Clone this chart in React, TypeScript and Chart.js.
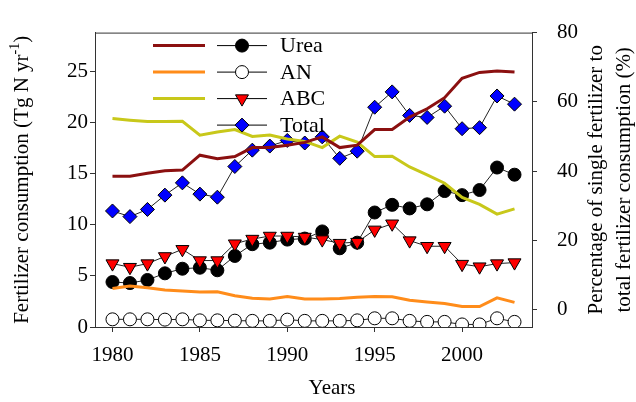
import { useEffect, useRef } from 'react';
import { Chart, registerables } from 'chart.js';

Chart.register(...registerables);

const years = [1980, 1981, 1982, 1983, 1984, 1985, 1986, 1987, 1988, 1989, 1990, 1991, 1992, 1993, 1994, 1995, 1996, 1997, 1998, 1999, 2000, 2001, 2002, 2003];

// Fertilizer consumption (Tg N yr-1), left axis
const urea = [4.4, 4.3, 4.6, 5.25, 5.7, 5.8, 5.55, 6.95, 8.1, 8.25, 8.55, 8.65, 9.35, 7.7, 8.25, 11.2, 11.95, 11.6, 12.0, 13.3, 12.9, 13.4, 15.6, 14.9];
const an = [0.75, 0.75, 0.75, 0.72, 0.75, 0.65, 0.65, 0.62, 0.6, 0.6, 0.72, 0.6, 0.6, 0.6, 0.65, 0.85, 0.85, 0.6, 0.5, 0.5, 0.25, 0.25, 0.85, 0.5];
const abc = [6.2, 5.85, 6.2, 6.9, 7.6, 6.5, 6.5, 8.15, 8.6, 8.9, 8.9, 8.8, 8.55, 8.2, 8.3, 9.5, 10.1, 8.45, 7.9, 7.9, 6.15, 5.9, 6.2, 6.3];
const total = [11.35, 10.8, 11.5, 12.9, 14.1, 13.0, 12.7, 15.7, 17.3, 17.7, 18.25, 18.0, 18.6, 16.5, 17.2, 21.5, 23.0, 20.7, 20.5, 21.6, 19.4, 19.5, 22.6, 21.8];

// Percentage of single fertilizer to total (%), right axis
const ureaPct = [38.5, 38.5, 39.4, 40.1, 40.3, 44.6, 43.6, 44.2, 46.8, 46.8, 47.5, 48.3, 49.9, 46.8, 47.5, 52.0, 52.0, 55.6, 58.0, 61.2, 66.8, 68.5, 68.9, 68.6];
const anPct = [6.1, 6.8, 6.3, 5.7, 5.4, 5.1, 5.2, 4.05, 3.3, 3.1, 3.8, 3.1, 3.1, 3.2, 3.6, 3.8, 3.7, 2.7, 2.2, 1.8, 0.9, 0.9, 3.4, 2.1];
const abcPct = [55.2, 54.7, 54.3, 54.3, 54.4, 50.4, 51.3, 52.0, 50.0, 50.4, 49.3, 48.6, 46.8, 50.1, 48.4, 44.2, 44.3, 41.2, 38.9, 36.5, 32.4, 30.4, 27.6, 29.1];

const xTicks = [1980, 1985, 1990, 1995, 2000];
const leftTicks = [0, 5, 10, 15, 20, 25];
const rightTicks = [0, 20, 40, 60, 80];

const seriesLabels = ['Urea', 'AN', 'ABC', 'Total'];

const FONT = "'Liberation Serif', 'Times New Roman', serif";
const C_UREA = '#8b1010';
const C_AN = '#ff8c1a';
const C_ABC = '#c8c81a';
const AXIS = '#333333';

function drawMarker(ctx: CanvasRenderingContext2D, type: string, x: number, y: number) {
  ctx.save();
  ctx.lineWidth = 1;
  ctx.strokeStyle = '#000';
  ctx.beginPath();
  if (type === 'urea' || type === 'an') {
    ctx.arc(x, y, 6.5, 0, Math.PI * 2);
    ctx.fillStyle = type === 'urea' ? '#000' : '#fff';
  } else if (type === 'abc') {
    const r = 7.5;
    ctx.moveTo(x, y + r);
    ctx.lineTo(x + r * Math.sin((2 * Math.PI) / 3), y - r / 2);
    ctx.lineTo(x - r * Math.sin((2 * Math.PI) / 3), y - r / 2);
    ctx.closePath();
    ctx.fillStyle = '#ff0000';
  } else {
    const r = 7;
    ctx.moveTo(x, y - r);
    ctx.lineTo(x + r, y);
    ctx.lineTo(x, y + r);
    ctx.lineTo(x - r, y);
    ctx.closePath();
    ctx.fillStyle = '#0000ff';
  }
  ctx.fill();
  ctx.stroke();
  ctx.restore();
}

const decorPlugin = {
  id: 'decor',
  afterDraw(chart: any) {
    const { ctx, chartArea } = chart;
    const { left, right, top, bottom } = chartArea;
    ctx.save();
    // top frame line
    ctx.strokeStyle = AXIS;
    ctx.lineWidth = 1;
    ctx.beginPath();
    ctx.moveTo(left, top + 0.5);
    ctx.lineTo(right, top + 0.5);
    ctx.stroke();

    // legend
    const rowY = [13, 39.5, 66, 92.5];
    const lineColors = [C_UREA, C_AN, C_ABC, null];
    const markers = ['urea', 'an', 'abc', 'total'];
    for (let i = 0; i < 4; i++) {
      const y = top + rowY[i];
      const lc = lineColors[i];
      if (lc) {
        ctx.strokeStyle = lc;
        ctx.lineWidth = 3;
        ctx.beginPath();
        ctx.moveTo(left + 58, y);
        ctx.lineTo(left + 110, y);
        ctx.stroke();
      }
      ctx.strokeStyle = '#000';
      ctx.lineWidth = 1;
      ctx.beginPath();
      ctx.moveTo(left + 122, y);
      ctx.lineTo(left + 172, y);
      ctx.stroke();
      drawMarker(ctx, markers[i], left + 147, y);
      ctx.fillStyle = '#000';
      ctx.font = `22px ${FONT}`;
      ctx.textAlign = 'left';
      ctx.textBaseline = 'middle';
      ctx.fillText(seriesLabels[i], left + 185, y + 1);
    }

    const cy = (top + bottom) / 2;
    // left axis title with superscript
    ctx.save();
    ctx.translate(22, cy);
    ctx.rotate(-Math.PI / 2);
    ctx.fillStyle = '#000';
    ctx.textBaseline = 'middle';
    ctx.textAlign = 'left';
    const main = 'Fertilizer consumption (Tg N yr';
    const sup = '-1';
    const end = ')';
    ctx.font = `21px ${FONT}`;
    const w1 = ctx.measureText(main).width;
    const w3 = ctx.measureText(end).width;
    ctx.font = `14px ${FONT}`;
    const w2 = ctx.measureText(sup).width;
    let x0 = -(w1 + w2 + w3) / 2;
    ctx.font = `21px ${FONT}`;
    ctx.fillText(main, x0, 0);
    ctx.font = `14px ${FONT}`;
    ctx.fillText(sup, x0 + w1, -7);
    ctx.font = `21px ${FONT}`;
    ctx.fillText(end, x0 + w1 + w2, 0);
    ctx.restore();

    // right axis title (two lines, reading upward)
    ctx.save();
    ctx.font = `21px ${FONT}`;
    ctx.fillStyle = '#000';
    ctx.textAlign = 'center';
    ctx.textBaseline = 'middle';
    ctx.translate(596, cy);
    ctx.rotate(-Math.PI / 2);
    ctx.fillText('Percentage of single fertilizer to', 0, 0);
    ctx.fillText('total fertilizer consumption (%)', 0, 28);
    ctx.restore();

    // x axis title
    ctx.font = `21px ${FONT}`;
    ctx.fillStyle = '#000';
    ctx.textAlign = 'center';
    ctx.textBaseline = 'middle';
    ctx.fillText('Years', 332, 388);
    ctx.restore();
  },
};

export default function App() {
  const ref = useRef<HTMLCanvasElement>(null);
  useEffect(() => {
    document.body.style.margin = '0';
    const canvas = ref.current!;
    const pts = (arr: number[]) => years.map((x, i) => ({ x, y: arr[i] }));
    const tickFont = { family: FONT, size: 21 };
    const chart = new Chart(canvas, {
      type: 'line',
      data: {
        datasets: [
          { label: 'Urea %', data: pts(ureaPct), yAxisID: 'y2', borderColor: C_UREA, borderWidth: 3, pointRadius: 0, order: 0 },
          { label: 'AN %', data: pts(anPct), yAxisID: 'y2', borderColor: C_AN, borderWidth: 3, pointRadius: 0, order: 0 },
          { label: 'ABC %', data: pts(abcPct), yAxisID: 'y2', borderColor: C_ABC, borderWidth: 3, pointRadius: 0, order: 0 },
          {
            label: 'Total', data: pts(total), yAxisID: 'y', borderColor: '#222', borderWidth: 1,
            pointStyle: 'rectRot', pointRadius: 7, pointBackgroundColor: '#0000ff', pointBorderColor: '#000', pointBorderWidth: 1, order: 1,
          },
          {
            label: 'ABC', data: pts(abc), yAxisID: 'y', borderColor: '#222', borderWidth: 1,
            pointStyle: 'triangle', rotation: 180, pointRadius: 7.5, pointBackgroundColor: '#ff0000', pointBorderColor: '#000', pointBorderWidth: 1, order: 1,
          },
          {
            label: 'Urea', data: pts(urea), yAxisID: 'y', borderColor: '#222', borderWidth: 1,
            pointStyle: 'circle', pointRadius: 6.5, pointBackgroundColor: '#000', pointBorderColor: '#000', pointBorderWidth: 1, order: 2,
          },
          {
            label: 'AN', data: pts(an), yAxisID: 'y', borderColor: '#222', borderWidth: 1,
            pointStyle: 'circle', pointRadius: 6.5, pointBackgroundColor: '#fff', pointBorderColor: '#000', pointBorderWidth: 1, order: 3,
          },
        ],
      },
      options: {
        responsive: false,
        animation: false,
        events: [],
        layout: { padding: { top: 12, left: 0, right: 0, bottom: 0 } },
        plugins: { legend: { display: false }, tooltip: { enabled: false }, title: { display: false } },
        scales: {
          x: {
            type: 'linear',
            position: 'bottom',
            min: 1979,
            max: 2004,
            afterBuildTicks: (s: any) => { s.ticks = xTicks.map((v) => ({ value: v })); },
            afterFit: (s: any) => { s.height = 75; },
            grid: { drawOnChartArea: false, drawTicks: true, tickLength: 5, color: AXIS },
            border: { display: true, color: AXIS, width: 1 },
            ticks: { font: tickFont, color: '#000', padding: 11, maxRotation: 0, autoSkip: false, callback: (v: any) => String(v) },
          },
          y: {
            type: 'linear',
            position: 'left',
            min: 0,
            max: 28.8,
            afterBuildTicks: (s: any) => { s.ticks = leftTicks.map((v) => ({ value: v })); },
            afterFit: (s: any) => { s.width = 95; },
            grid: { drawOnChartArea: false, drawTicks: true, tickLength: 5, color: AXIS },
            border: { display: true, color: AXIS, width: 1 },
            ticks: { font: tickFont, color: '#000', padding: 2, autoSkip: false, callback: (v: any) => String(v) },
          },
          y2: {
            type: 'linear',
            position: 'right',
            min: -5,
            max: 80,
            afterBuildTicks: (s: any) => { s.ticks = rightTicks.map((v) => ({ value: v })); },
            afterFit: (s: any) => { s.width = 104; },
            grid: { drawOnChartArea: false, drawTicks: true, tickLength: 5, color: AXIS },
            border: { display: true, color: AXIS, width: 1 },
            ticks: { font: tickFont, color: '#000', padding: 20, autoSkip: false, callback: (v: any) => String(v) },
          },
        },
      },
      plugins: [decorPlugin],
    } as any);
    return () => chart.destroy();
  }, []);
  return (
    <div style={{ width: 636, height: 402 }}>
      <canvas ref={ref} width={636} height={402} style={{ display: 'block' }} />
    </div>
  );
}
